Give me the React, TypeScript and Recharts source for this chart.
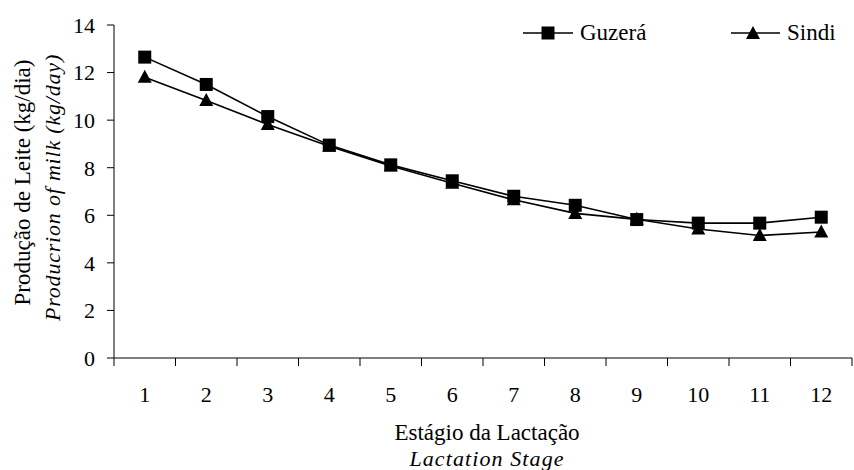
import React from 'react';
import { LineChart, Line, XAxis, YAxis, Label } from 'recharts';

const stages = [1, 2, 3, 4, 5, 6, 7, 8, 9, 10, 11, 12];
const guzera = [12.65, 11.5, 10.15, 8.95, 8.12, 7.45, 6.8, 6.42, 5.82, 5.67, 5.67, 5.92];
const sindi = [11.8, 10.83, 9.82, 8.9, 8.07, 7.35, 6.65, 6.08, 5.83, 5.42, 5.15, 5.3];
const yTicks = [0, 2, 4, 6, 8, 10, 12, 14];
const xTicks = [0.5, 1, 1.5, 2, 2.5, 3, 3.5, 4, 4.5, 5, 5.5, 6, 6.5, 7, 7.5, 8, 8.5, 9, 9.5, 10, 10.5, 11, 11.5, 12, 12.5];
const seriesNames = ['Guzerá', 'Sindi'];

const data = stages.map((s, i) => ({ stage: s, Guzera: guzera[i], Sindi: sindi[i] }));

const FONT = 'Liberation Serif';
const FS = 23;
const TICK_FS = 22;
const LEGEND_FS = 23;

const Square = (props: any) => {
  const { cx, cy } = props;
  if (cx == null || cy == null) return null;
  return <rect x={cx - 6.5} y={cy - 6.5} width={13} height={13} fill="#000" />;
};

const Triangle = (props: any) => {
  const { cx, cy } = props;
  if (cx == null || cy == null) return null;
  return <polygon points={`${cx},${cy - 7.5} ${cx - 7},${cy + 5.5} ${cx + 7},${cy + 5.5}`} fill="#000" />;
};

const XTick = (props: any) => {
  const { x, y, payload } = props;
  const v = payload.value;
  if (Math.abs(v - Math.round(v)) > 0.01) {
    return <line x1={x} x2={x} y1={y - 8} y2={y} stroke="#000" strokeWidth={1} />;
  }
  return (
    <text x={x} y={y + 28} textAnchor="middle" dominantBaseline="central" style={{ fontFamily: FONT, fontSize: TICK_FS }} fill="#000">
      {v}
    </text>
  );
};

const YLabel = (props: any) => {
  const { viewBox } = props;
  const cy = viewBox.y + viewBox.height / 2 - 9;
  const x1 = 22;
  const x2 = 52;
  return (
    <g>
      <text x={x1} y={cy} transform={`rotate(-90, ${x1}, ${cy})`} textAnchor="middle" dominantBaseline="central" style={{ fontFamily: FONT, fontSize: FS }} fill="#000">
        Produção de Leite (kg/dia)
      </text>
      <text x={x2} y={cy + 5} transform={`rotate(-90, ${x2}, ${cy + 5})`} textAnchor="middle" dominantBaseline="central" style={{ fontFamily: FONT, fontSize: 22, fontStyle: 'italic', letterSpacing: 0.8 }} fill="#000">
        Producrion of milk (kg/day)
      </text>
    </g>
  );
};

const XLabel = (props: any) => {
  const { viewBox } = props;
  const cx = viewBox.x + viewBox.width / 2 + 4;
  return (
    <g>
      <text x={cx} y={432} textAnchor="middle" dominantBaseline="central" style={{ fontFamily: FONT, fontSize: FS }} fill="#000">
        Estágio da Lactação
      </text>
      <text x={cx} y={458} textAnchor="middle" dominantBaseline="central" style={{ fontFamily: FONT, fontSize: 22, fontStyle: 'italic', letterSpacing: 1.1 }} fill="#000">
        Lactation Stage
      </text>
    </g>
  );
};

const legendItem: React.CSSProperties = {
  position: 'absolute',
  top: 22,
  display: 'flex',
  alignItems: 'center',
  fontFamily: FONT,
  fontSize: LEGEND_FS,
  color: '#000',
  lineHeight: '22px',
  whiteSpace: 'nowrap',
};

const LegendBox = () => (
  <>
    <div style={{ ...legendItem, left: 523 }}>
      <svg width={50} height={22}>
        <line x1={0} x2={50} y1={11} y2={11} stroke="#000" strokeWidth={1.5} />
        <rect x={18.5} y={4.5} width={13} height={13} fill="#000" />
      </svg>
      <span style={{ marginLeft: 7 }}>{seriesNames[0]}</span>
    </div>
    <div style={{ ...legendItem, left: 731 }}>
      <svg width={49} height={22}>
        <line x1={0} x2={49} y1={11} y2={11} stroke="#000" strokeWidth={1.5} />
        <polygon points="22,4 15,17 29,17" fill="#000" />
      </svg>
      <span style={{ marginLeft: 7 }}>{seriesNames[1]}</span>
    </div>
  </>
);

export default function App() {
  return (
    <div style={{ position: 'absolute', left: 0, top: 0, width: 854, height: 470, background: '#fff', fontFamily: FONT }}>
      <LineChart width={854} height={470} data={data} margin={{ top: 25, right: 2, bottom: 82, left: 74 }}>
        <XAxis
          dataKey="stage"
          type="number"
          domain={[0.5, 12.5]}
          ticks={xTicks}
          interval={0}
          tick={<XTick />}
          tickLine={false}
          axisLine={{ stroke: '#000', strokeWidth: 1 }}
          height={30}
        >
          <Label content={<XLabel />} />
        </XAxis>
        <YAxis
          domain={[0, 14]}
          ticks={yTicks}
          interval={0}
          width={40}
          tickSize={7}
          tickMargin={12}
          tickLine={{ stroke: '#000' }}
          axisLine={{ stroke: '#000', strokeWidth: 1 }}
          tick={{ fontFamily: FONT, fontSize: TICK_FS, fill: '#000' }}
        >
          <Label content={<YLabel />} />
        </YAxis>
        <Line dataKey="Guzera" name={seriesNames[0]} type="linear" stroke="#000" strokeWidth={1.6} dot={<Square />} activeDot={false} isAnimationActive={false} />
        <Line dataKey="Sindi" name={seriesNames[1]} type="linear" stroke="#000" strokeWidth={1.6} dot={<Triangle />} activeDot={false} isAnimationActive={false} />
      </LineChart>
      <LegendBox />
    </div>
  );
}
